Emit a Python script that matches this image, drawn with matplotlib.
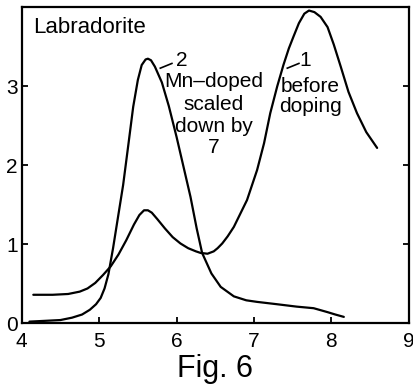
import matplotlib
matplotlib.use("Agg")
import matplotlib.pyplot as plt

plt.rcParams['font.family'] = ['Liberation Sans', 'DejaVu Sans']

# curve 1: before doping
x_before = [4.15, 4.4, 4.6, 4.75, 4.85, 4.95, 5.05, 5.15, 5.25, 5.35, 5.45, 5.52, 5.58, 5.63,
            5.68, 5.75, 5.85, 5.95, 6.05, 6.15, 6.25, 6.31, 6.4, 6.48, 6.53, 6.59, 6.66, 6.74,
            6.82, 6.91, 7.04, 7.13, 7.21, 7.3, 7.38, 7.45, 7.51, 7.58, 7.65, 7.71, 7.78,
            7.86, 7.95, 8.03, 8.12, 8.22, 8.33, 8.45, 8.59]
y_before = [0.36, 0.36, 0.37, 0.40, 0.44, 0.51, 0.61, 0.72, 0.87, 1.05, 1.25, 1.37, 1.43, 1.43,
            1.40, 1.32, 1.20, 1.09, 1.01, 0.95, 0.91, 0.89, 0.88, 0.91, 0.95, 1.01, 1.10, 1.22,
            1.38, 1.56, 1.94, 2.28, 2.66, 3.0, 3.27, 3.48, 3.63, 3.8, 3.92, 3.96, 3.94,
            3.88, 3.75, 3.53, 3.25, 2.93, 2.66, 2.42, 2.22]

# curve 2: Mn-doped, scaled down by 7
x_mn = [4.1, 4.3, 4.5, 4.65, 4.78, 4.88, 4.96, 5.02, 5.07, 5.12, 5.18, 5.24, 5.31, 5.38,
        5.44, 5.5, 5.55, 5.6, 5.63, 5.67, 5.72, 5.81, 5.9, 6.0, 6.09, 6.18, 6.26, 6.33,
        6.45, 6.57, 6.74, 6.9, 7.04, 7.3, 7.55, 7.77, 7.95, 8.05, 8.16]
y_mn = [0.02, 0.03, 0.04, 0.07, 0.11, 0.17, 0.24, 0.32, 0.44, 0.62, 0.95, 1.32, 1.75, 2.28,
        2.74, 3.08, 3.27, 3.34, 3.35, 3.33, 3.25, 3.05, 2.75, 2.36, 1.98, 1.60, 1.20, 0.89,
        0.63, 0.46, 0.34, 0.29, 0.27, 0.24, 0.21, 0.19, 0.14, 0.11, 0.08]

x_ticks = [4, 5, 6, 7, 8, 9]
y_ticks = [0, 1, 2, 3]

fig = plt.figure(figsize=(4.13, 3.88), dpi=100)
ax = fig.add_axes([0.0525, 0.167, 0.9375, 0.814])

ax.plot(x_before, y_before, color='black', lw=1.6, solid_joinstyle='round', solid_capstyle='round')
ax.plot(x_mn, y_mn, color='black', lw=1.6, solid_joinstyle='round', solid_capstyle='round')

ax.set_xlim(4, 9)
ax.set_ylim(0, 4)
ax.set_xticks(x_ticks)
ax.set_yticks(y_ticks)
ax.tick_params(direction='in', length=4, width=1.3, labelsize=15,
               left=True, right=True, bottom=True, top=False)
ax.tick_params(axis='x', pad=6)
ax.tick_params(axis='y', pad=3)
for s in ax.spines.values():
    s.set_linewidth(1.6)

ax.text(4.15, 3.74, "Labradorite", fontsize=16, ha='left', va='center')

# label 2
ax.plot([5.79, 5.94], [3.23, 3.29], color='black', lw=1.2)
ax.text(6.07, 3.33, "2", fontsize=15, ha='center', va='center')
for txt, yy in zip(["Mn\u2013doped", "scaled", "down by", "7"], [3.06, 2.77, 2.49, 2.22]):
    ax.text(6.48, yy, txt, fontsize=15, ha='center', va='center')

# label 1
ax.plot([7.43, 7.58], [3.23, 3.29], color='black', lw=1.2)
ax.text(7.66, 3.33, "1", fontsize=15, ha='center', va='center')
ax.text(7.72, 3.0, "before", fontsize=15, ha='center', va='center')
ax.text(7.73, 2.74, "doping", fontsize=15, ha='center', va='center')

fig.text(0.52, 0.05, "Fig. 6", fontsize=22, ha='center', va='center')

fig.savefig("out.png", dpi=100)
